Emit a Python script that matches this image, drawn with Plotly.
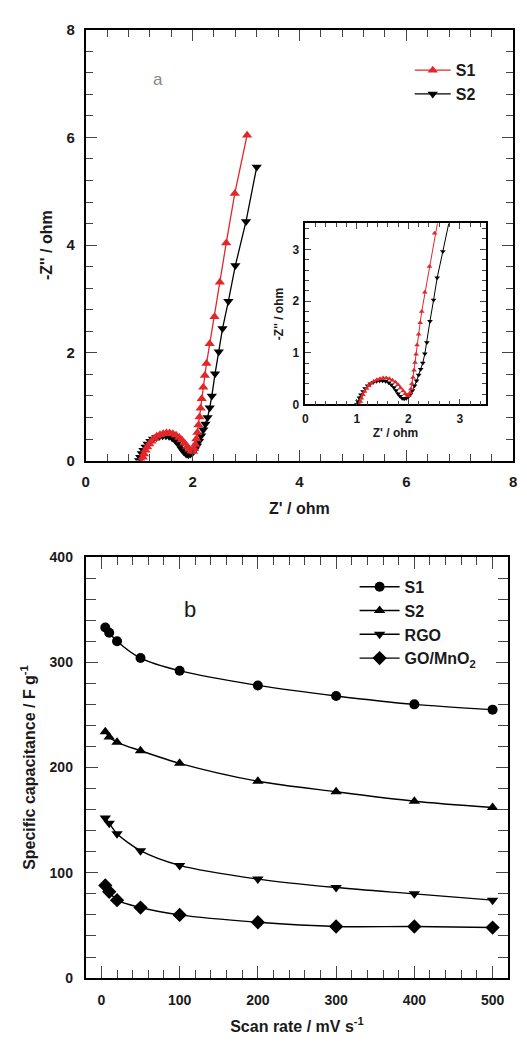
import plotly.graph_objects as go

# ---------------- Panel a: Nyquist data ----------------
s1_zre = [1.05, 1.07, 1.09, 1.12, 1.15, 1.19, 1.23, 1.28, 1.33, 1.39, 1.45, 1.51, 1.57, 1.63,
          1.69, 1.75, 1.80, 1.85, 1.90, 1.94, 1.98, 2.01, 2.03, 2.05, 2.07, 2.09, 2.11, 2.13,
          2.15, 2.17, 2.20, 2.23, 2.26, 2.32, 2.41, 2.51, 2.63, 2.79, 3.02]
s1_zim = [0.00, 0.06, 0.12, 0.19, 0.25, 0.31, 0.36, 0.41, 0.45, 0.48, 0.50, 0.51, 0.51, 0.50,
          0.47, 0.43, 0.38, 0.32, 0.26, 0.21, 0.18, 0.17, 0.22, 0.30, 0.40, 0.52, 0.66, 0.81,
          0.97, 1.15, 1.36, 1.58, 1.80, 2.17, 2.67, 3.31, 4.04, 4.96, 6.04]
s2_zre = [1.00, 1.02, 1.05, 1.08, 1.12, 1.16, 1.21, 1.26, 1.32, 1.38, 1.44, 1.50, 1.56, 1.62,
          1.67, 1.72, 1.76, 1.80, 1.84, 1.88, 1.92, 1.96, 2.00, 2.04, 2.08, 2.12, 2.16, 2.20,
          2.24, 2.28, 2.32, 2.36, 2.42, 2.49, 2.56, 2.67, 2.80, 3.00, 3.20]
s2_zim = [0.00, 0.06, 0.13, 0.19, 0.25, 0.31, 0.36, 0.40, 0.43, 0.45, 0.46, 0.46, 0.45, 0.42,
          0.38, 0.33, 0.27, 0.21, 0.16, 0.12, 0.11, 0.12, 0.15, 0.20, 0.27, 0.36, 0.46, 0.57,
          0.68, 0.80, 0.98, 1.20, 1.61, 2.02, 2.45, 2.96, 3.62, 4.44, 5.45]

# ---------------- Panel b: capacitance data ----------------
scan_rate = [5, 10, 20, 50, 100, 200, 300, 400, 500]
cap_s1 = [333, 328, 320, 304, 292, 278, 268, 260, 255]
cap_s2 = [234, 229, 224, 216, 204, 187, 177, 168, 162]
cap_rgo = [152, 147, 137, 121, 107, 94, 86, 80, 74]
cap_gomno2 = [88, 82, 74, 67, 60, 53, 49, 49, 48]

RED = "#e3262a"
BLK = "black"
TXT = "#1a1a1a"
FONT = "Arial"

fig = go.Figure()
fig.add_trace(go.Scatter(x=s2_zre, y=s2_zim, mode="lines+markers", name="S2",
                         line=dict(color=BLK, width=1.3),
                         marker=dict(symbol="triangle-down", size=9, color=BLK),
                         xaxis="x", yaxis="y", legend="legend"))
fig.add_trace(go.Scatter(x=s1_zre, y=s1_zim, mode="lines+markers", name="S1",
                         line=dict(color=RED, width=1.3),
                         marker=dict(symbol="triangle-up", size=9, color=RED),
                         xaxis="x", yaxis="y", legend="legend"))
fig.add_trace(go.Scatter(x=s2_zre, y=s2_zim, mode="lines+markers", showlegend=False,
                         line=dict(color=BLK, width=1),
                         marker=dict(symbol="triangle-down", size=5, color=BLK),
                         xaxis="x3", yaxis="y3"))
fig.add_trace(go.Scatter(x=s1_zre, y=s1_zim, mode="lines+markers", showlegend=False,
                         line=dict(color=RED, width=1),
                         marker=dict(symbol="triangle-up", size=5, color=RED),
                         xaxis="x3", yaxis="y3"))
for name, vals, sym in [("S1", cap_s1, "circle"), ("S2", cap_s2, "triangle-up"),
                        ("RGO", cap_rgo, "triangle-down"),
                        ("GO/MnO<sub>2</sub>", cap_gomno2, "diamond")]:
    fig.add_trace(go.Scatter(x=scan_rate, y=vals, mode="lines+markers", name=name,
                             line=dict(color=BLK, width=1.4, shape="spline", smoothing=0.8),
                             marker=dict(symbol=sym, size=10 if sym != "diamond" else 11, color=BLK),
                             xaxis="x2", yaxis="y2", legend="legend2"))

W, H = 527, 1051
def px_x(a, b):
    return [a / W, b / W]
def px_y(top, bottom):
    return [1 - bottom / H, 1 - top / H]

def ax(lw, tl, mdt, mtl, size, standoff_lbl):
    return dict(showline=True, linecolor=BLK, linewidth=lw, mirror="allticks",
                ticks="inside", ticklen=tl,
                minor=dict(dtick=mdt, ticks="inside", ticklen=mtl),
                tickfont=dict(size=size, family=FONT, color=TXT, weight="bold"),
                ticklabelstandoff=standoff_lbl,
                showgrid=False, zeroline=False)

fig.update_layout(
    width=W, height=H, margin=dict(l=0, r=0, t=0, b=0),
    plot_bgcolor="rgba(0,0,0,0)",
    xaxis=dict(domain=px_x(83, 517), range=[0, 8], dtick=2, anchor="y",
               title=dict(text="Z' / ohm", font=dict(size=16, family=FONT, color=TXT, weight="bold"), standoff=14),
               **ax(2, 11, 0.4, 7, 15, 6)),
    yaxis=dict(domain=px_y(21, 459), range=[0, 8], dtick=2, anchor="x",
               title=dict(text="-Z'' / ohm", font=dict(size=16, family=FONT, color=TXT, weight="bold"), standoff=10),
               **ax(2, 11, 0.4, 7, 15, 6)),
    xaxis3=dict(domain=px_x(306, 489), range=[0, 3.5], dtick=1, anchor="y3",
                title=dict(text="Z' / ohm", font=dict(size=12, family=FONT, color=TXT, weight="bold"), standoff=4),
                **ax(1.5, 6, 0.2, 4, 12, 2)),
    yaxis3=dict(domain=px_y(218, 402), range=[0, 3.5], dtick=1, anchor="x3",
                title=dict(text="-Z'' / ohm", font=dict(size=12, family=FONT, color=TXT, weight="bold"), standoff=6),
                **ax(1.5, 6, 0.2, 4, 12, 2)),
    xaxis2=dict(domain=px_x(83, 512), range=[-20, 520], tick0=0, dtick=100, anchor="y2",
                title=dict(text="Scan rate / mV s<sup>-1</sup>", font=dict(size=16, family=FONT, color=TXT, weight="bold"), standoff=14),
                **ax(2, 12, 20, 8, 14, 8)),
    yaxis2=dict(domain=px_y(557, 985), range=[0, 400], dtick=100, anchor="x2",
                title=dict(text="Specific capacitance / F g<sup>-1</sup>", font=dict(size=16, family=FONT, color=TXT, weight="bold"), standoff=10),
                **ax(2, 12, 20, 10, 14, 8)),
    legend=dict(x=412 / W, y=1 - 45 / H, xanchor="left", yanchor="top",
                bgcolor="rgba(0,0,0,0)", font=dict(size=16, weight="bold", family=FONT, color=TXT),
                tracegroupgap=0, itemwidth=36, traceorder="reversed"),
    legend2=dict(x=356 / W, y=1 - 570 / H, xanchor="left", yanchor="top",
                 bgcolor="rgba(0,0,0,0)", font=dict(size=16, weight="bold", family=FONT, color=TXT),
                 tracegroupgap=0, itemwidth=40),
    annotations=[
        dict(text="a", x=149 / W, y=1 - 60 / H, xref="paper", yref="paper", showarrow=False,
             font=dict(size=17, color="#888888", family=FONT)),
        dict(text="b", x=113, y=350, xref="x2", yref="y2", showarrow=False,
             font=dict(size=22, color=TXT, family=FONT)),
    ],
)

fig.write_html("out.html", config={"displayModeBar": False},
               post_script="document.body.style.margin='0';document.body.style.overflow='hidden';")
